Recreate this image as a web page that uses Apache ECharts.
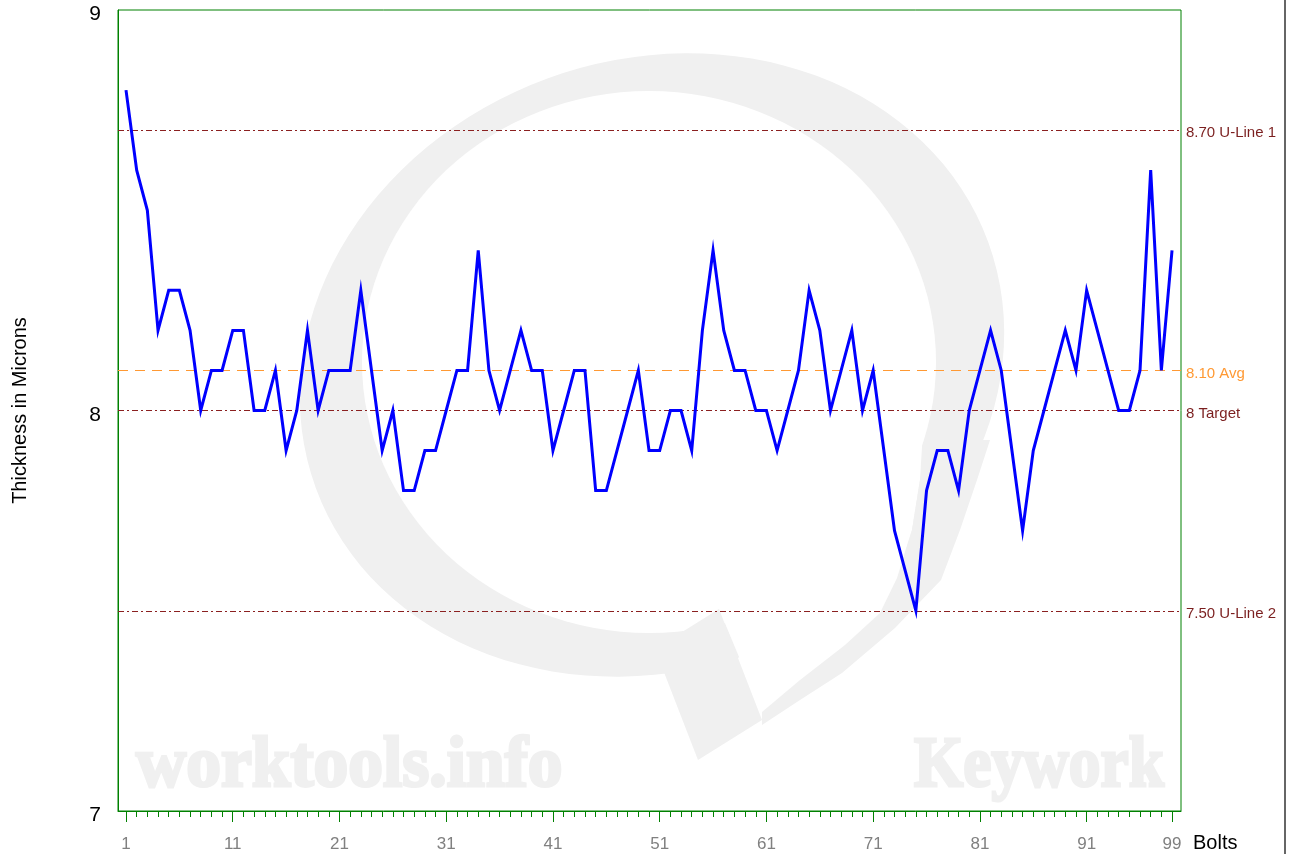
<!DOCTYPE html>
<html>
<head>
<meta charset="utf-8">
<script src="https://cdn.jsdelivr.net/npm/echarts@6/dist/echarts.min.js"></script>
<style>
    html, body { margin: 0; padding: 0; background: #fff; }
    #chart { width: 1296px; height: 854px; }
</style>
</head>
<body>
<div id="chart"></div>
<script>
// 螺栓厚度 (microns), bolt 1 .. 99
const thickness = [
    8.8, 8.6, 8.5, 8.2, 8.3, 8.3, 8.2, 8.0, 8.1, 8.1,
    8.2, 8.2, 8.0, 8.0, 8.1, 7.9, 8.0, 8.2, 8.0, 8.1,
    8.1, 8.1, 8.3, 8.1, 7.9, 8.0, 7.8, 7.8, 7.9, 7.9,
    8.0, 8.1, 8.1, 8.4, 8.1, 8.0, 8.1, 8.2, 8.1, 8.1,
    7.9, 8.0, 8.1, 8.1, 7.8, 7.8, 7.9, 8.0, 8.1, 7.9,
    7.9, 8.0, 8.0, 7.9, 8.2, 8.4, 8.2, 8.1, 8.1, 8.0,
    8.0, 7.9, 8.0, 8.1, 8.3, 8.2, 8.0, 8.1, 8.2, 8.0,
    8.1, 7.9, 7.7, 7.6, 7.5, 7.8, 7.9, 7.9, 7.8, 8.0,
    8.1, 8.2, 8.1, 7.9, 7.7, 7.9, 8.0, 8.1, 8.2, 8.1,
    8.3, 8.2, 8.1, 8.0, 8.0, 8.1, 8.6, 8.1, 8.4
]
const bolts = thickness.map((v, i) => i + 1)
const majorTicks = [1, 11, 21, 31, 41, 51, 61, 71, 81, 91, 99]
const yTicks = [7, 8, 9]

// 参考线
const refValues = [8.7, 8.1, 8, 7.5]
const refLabels = ['8.70 U-Line 1', '8.10 Avg', '8 Target', '7.50 U-Line 2']

const green = '#008000'
const darkRed = '#8b2020'
const orange = '#ff9933'
const mark = '#f0f0f0'

let chart = echarts.init(document.getElementById('chart'))

let refData = refValues.map((v, i) => {
    let avg = refLabels[i].indexOf('Avg') >= 0
    return {
        yAxis: v,
        lineStyle: {
            color: avg ? orange : darkRed,
            width: 1,
            type: avg ? [10, 7] : [6, 3, 2, 3]
        },
        label: {
            formatter: refLabels[i],
            color: avg ? orange : '#7b1f1f'
        }
    }
})

// 水印 (背景装饰)
let watermark = [
    {
        type: 'circle', z: -5, silent: true,
        x: 652, y: 365, scaleX: 358 / 305, rotation: 0.35,
        shape: { cx: 0, cy: 0, r: 305 },
        style: { fill: mark }
    },
    {
        type: 'circle', z: -5, silent: true,
        x: 649, y: 362, scaleX: 287 / 271,
        shape: { cx: 0, cy: 0, r: 271 },
        style: { fill: '#fff' }
    },
    {
        type: 'polygon', z: -5, silent: true,
        shape: {
            points: [[923, 430], [920, 480], [912, 530], [897, 578], [880, 613], [845, 645], [800, 680], [762, 712],
                [719, 609], [700, 600], [800, 560], [880, 470], [900, 430]]
        },
        style: { fill: '#fff' }
    },
    {
        type: 'polygon', z: -5, silent: true,
        shape: {
            points: [[990, 440], [977, 480], [960, 530], [941, 580], [895, 628], [842, 673], [800, 700], [762, 725],
                [762, 712], [800, 680], [845, 645], [880, 613], [897, 578], [912, 530], [920, 480], [930, 440]]
        },
        style: { fill: mark }
    },
    {
        type: 'polygon', z: -5, silent: true,
        shape: { points: [[655, 649], [719, 609], [762, 720], [698, 760]] },
        style: { fill: mark }
    },
    {
        type: 'text', z: -5, silent: true,
        x: 136, y: 803, scaleX: 0.965,
        style: {
            text: 'worktools.info',
            font: 'bold 72px "Liberation Serif"',
            fill: mark,
            stroke: mark,
            lineWidth: 3,
            textAlign: 'left',
            textVerticalAlign: 'bottom'
        }
    },
    {
        type: 'text', z: -5, silent: true,
        x: 914, y: 803, scaleX: 0.88,
        style: {
            text: 'Keywork',
            font: 'bold 72px "Liberation Serif"',
            fill: mark,
            stroke: mark,
            lineWidth: 3,
            textAlign: 'left',
            textVerticalAlign: 'bottom'
        }
    },
    {
        type: 'line', silent: true,
        shape: { x1: 1285, y1: 0, x2: 1285, y2: 854 },
        style: { stroke: '#666', lineWidth: 2 }
    }
]

let option = {
    animation: false,
    grid: {
        left: 118,
        right: 115,
        top: 10,
        bottom: 43,
        show: true,
        borderColor: green,
        borderWidth: 1,
        backgroundColor: 'transparent'
    },
    xAxis: [
        {
            type: 'value',
            min: 0.25,
            max: 99.84,
            position: 'bottom',
            name: 'Bolts',
            nameLocation: 'end',
            nameGap: 12,
            nameTextStyle: {
                color: '#000',
                fontSize: 20,
                fontFamily: 'Liberation Sans',
                verticalAlign: 'top',
                padding: [22, 0, 0, 0]
            },
            axisLine: { show: true, lineStyle: { color: green, width: 1 } },
            axisTick: {
                show: true,
                customValues: bolts,
                length: 6,
                lineStyle: { color: green }
            },
            axisLabel: {
                customValues: majorTicks,
                color: '#808080',
                fontSize: 17,
                fontFamily: 'Liberation Sans',
                margin: 25
            },
            splitLine: { show: false }
        },
        {
            type: 'value',
            min: 0.25,
            max: 99.84,
            position: 'bottom',
            axisLine: { show: false },
            axisTick: {
                show: true,
                customValues: majorTicks,
                length: 11,
                lineStyle: { color: green }
            },
            axisLabel: { show: false },
            splitLine: { show: false }
        }
    ],
    yAxis: {
        type: 'value',
        min: 7,
        max: 9,
        interval: 1,
        name: 'Thickness in Microns',
        nameLocation: 'middle',
        nameRotate: 90,
        nameGap: 88,
        nameTextStyle: {
            color: '#000',
            fontSize: 20,
            fontFamily: 'Liberation Sans'
        },
        axisLine: { show: true, lineStyle: { color: green, width: 1 } },
        axisTick: { show: false },
        axisLabel: {
            customValues: yTicks,
            color: '#000',
            fontSize: 21,
            fontFamily: 'Liberation Sans',
            margin: 17,
            verticalAlign: 'top',
            lineHeight: 9
        },
        splitLine: { show: false }
    },
    graphic: { elements: watermark },
    series: [
        {
            type: 'line',
            xAxisIndex: 0,
            data: bolts.map((b, i) => [b, thickness[i]]),
            showSymbol: false,
            z: 5,
            lineStyle: { color: '#0000ff', width: 3, join: 'miter' },
            markLine: {
                silent: true,
                symbol: 'none',
                data: refData,
                label: {
                    show: true,
                    position: 'end',
                    distance: 5,
                    offset: [0, 3],
                    fontSize: 15,
                    fontFamily: 'Liberation Sans'
                }
            }
        }
    ]
}
chart.setOption(option)
</script>
</body>
</html>
